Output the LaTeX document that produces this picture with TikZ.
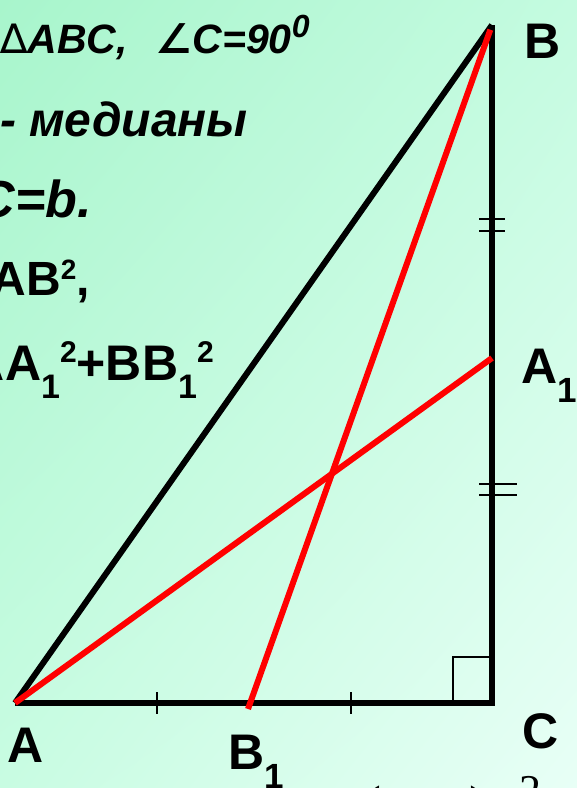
\documentclass[tikz,border=0pt]{standalone}
\usepackage{fontspec}
\usetikzlibrary{shadings}
\setmainfont{Liberation Sans}
\newfontfamily\djv{DejaVu Sans}
\newfontfamily\tms{Liberation Serif}
\definecolor{bgul}{RGB}{168,245,204}
\definecolor{bgur}{RGB}{196,251,224}
\definecolor{bgll}{RGB}{200,252,226}
\definecolor{bglr}{RGB}{232,255,246}
\newcommand{\mysup}[3]{\raisebox{#2}{\fontsize{#1}{#1}\selectfont #3}}
\begin{document}
\begin{tikzpicture}[x=1pt,y=-1pt,
  side/.style={line width=6pt, line join=miter},
  median/.style={red, line width=6pt},
  thin/.style={line width=1.8pt},
  lbl/.style={font=\fontsize{50}{50}\selectfont\bfseries, inner sep=0pt},
  given/.style={font=\bfseries\itshape, inner sep=0pt},
  givenup/.style={font=\bfseries, inner sep=0pt}]
\useasboundingbox (0,0) rectangle (577,788);
\clip (0,0) rectangle (577,788);
\shade[upper left=bgul, upper right=bgur, lower left=bgll, lower right=bglr]
  (0,0) rectangle (577,788);

% vertices
\coordinate (A) at (15,703);
\coordinate (B) at (492,25);
\coordinate (C) at (492,703);
\coordinate (A1) at (492,358);
\coordinate (B1) at (248,709);

% triangle
\draw[side] (A) -- (B);
\draw[side] (A) -- (C) -- (B);

% right angle mark
\draw[thin] (453,703) -- (453,657) -- (492,657);

% equal-part ticks on AC
\draw[thin] (157,692) -- (157,714);
\draw[thin] (351,692) -- (351,714);
% double ticks on BC
\draw[thin] (479,219) -- (505,219);
\draw[thin] (479,231) -- (505,231);
\draw[thin] (479,484) -- (517,484);
\draw[thin] (479,495) -- (517,495);

% medians
\draw[median, shorten <=5pt] (B) -- (B1);
\draw[median] (A) -- (A1);

% vertex labels
\node[lbl, anchor=base west] (lB) at (524,58) {B};
\node[lbl, anchor=base west] (lA1) at (521,383) {A\mysup{35}{-19pt}{1}};
\node[lbl, anchor=base west] (lC) at (522,748) {C};
\node[lbl, anchor=base west] (lA) at (7,762) {A};
\node[lbl, anchor=base west] (lB1) at (228,769) {B\mysup{35}{-19pt}{1}};

% given data (cut at the left edge)
\node[given, anchor=base west] (g1) at (0,53)
  {\fontsize{41}{41}\selectfont{\djv\mdseries\upshape ∆}ABC,\hspace{28pt}{\djv\bfseries\upshape ∠}C=90\mysup{32}{16pt}{0}};
\node[given, anchor=base east] (g2) at (248,136) {\fontsize{48}{48}\selectfont - медианы};
\node[given, anchor=base east] (g3) at (92,217) {\fontsize{52}{52}\selectfont C=b.};
\node[givenup, anchor=base east] (g4) at (90,295)
  {\fontsize{48}{48}\selectfont AB\mysup{28}{16pt}{2},};
\node[givenup, anchor=base east] (g5) at (214,380)
  {\fontsize{50}{50}\selectfont AA\mysup{34}{-18pt}{1}\mysup{30}{18pt}{2}+BB\mysup{34}{-18pt}{1}\mysup{30}{18pt}{2}};

% formula cut at the bottom edge
\node[inner sep=0pt, anchor=base west] (f) at (361,827)
  {\tms\fontsize{60}{60}\selectfont(\hspace{88pt})\hspace{30pt}\mysup{44}{22pt}{2}};
\end{tikzpicture}
\end{document}
